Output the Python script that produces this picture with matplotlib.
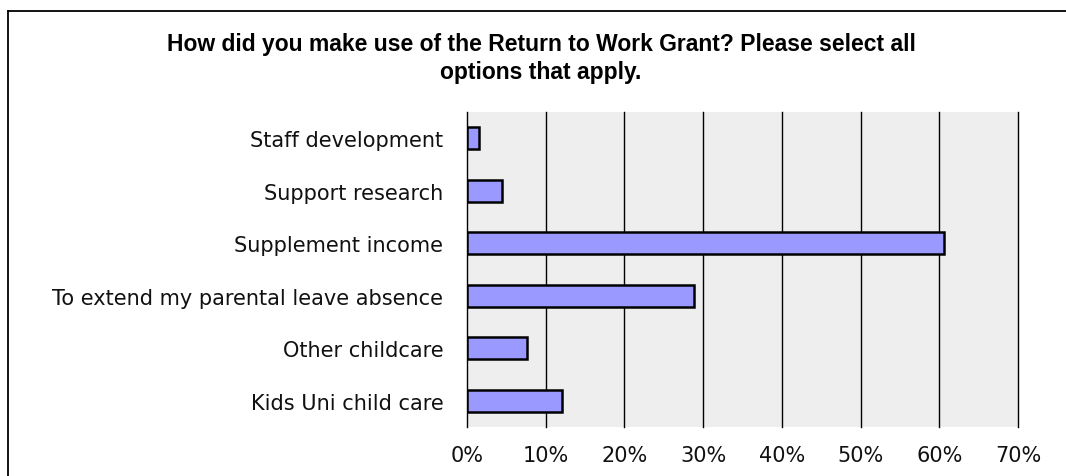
import numpy as np
import matplotlib.pyplot as plt
from matplotlib.lines import Line2D

# Survey responses, share of respondents choosing each option (n = 66)
options = ["Staff development", "Support research", "Supplement income",
           "To extend my parental leave absence", "Other childcare",
           "Kids Uni child care"]
shares = [1.5, 4.5, 60.6, 28.8, 7.6, 12.1]
xticks = [0, 10, 20, 30, 40, 50, 60, 70]

fig = plt.figure(figsize=(10.66, 4.77), dpi=100)
ax = fig.add_axes([0.438, 0.1027, 0.517, 0.66])

ypos = np.arange(len(options))[::-1]
ax.barh(ypos, shares, height=0.42, color="#9999FF", edgecolor="black",
        linewidth=1.8, zorder=3)

ax.set_xlim(0, 70)
ax.set_ylim(-0.5, len(options) - 0.5)
ax.set_facecolor("#EEEEEE")
ax.set_xticks(xticks)
ax.set_xticklabels([f"{t}%" for t in xticks])
ax.set_yticks(ypos)
ax.set_yticklabels(options)
ax.tick_params(axis="both", length=0, labelsize=15, colors="#111111")
ax.tick_params(axis="y", pad=17)
ax.tick_params(axis="x", pad=13)
for t in xticks[1:]:
    ax.axvline(t, color="black", linewidth=1.0, zorder=1, clip_on=False)
for side in ["top", "bottom", "right"]:
    ax.spines[side].set_visible(False)
ax.spines["left"].set_linewidth(1.0)

fig.text(0.5075, 0.906, "How did you make use of the Return to Work Grant? Please select all",
         ha="center", va="center", fontsize=16.5, fontweight="bold",
         family="Liberation Sans")
fig.text(0.5075, 0.849, "options that apply.", ha="center", va="center",
         fontsize=16.5, fontweight="bold", family="Liberation Sans")

# open frame round the chart: top and left edges only
fig.add_artist(Line2D([8 / 1066, 1], [1 - 12 / 477, 1 - 12 / 477],
                      color="black", linewidth=1.3, transform=fig.transFigure))
fig.add_artist(Line2D([8 / 1066, 8 / 1066], [0, 1 - 12 / 477],
                      color="black", linewidth=1.3, transform=fig.transFigure))

fig.savefig("out.png", dpi=100)
